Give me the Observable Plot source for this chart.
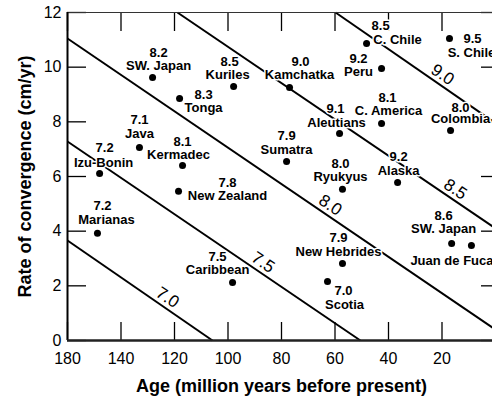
<!DOCTYPE html>
<html><head><meta charset="utf-8">
<script src="https://cdn.jsdelivr.net/npm/d3@7"></script>
<script src="https://cdn.jsdelivr.net/npm/@observablehq/plot@0.6"></script>
<style>
html,body{margin:0;padding:0;background:#fff;overflow:hidden;}
#chart{width:492px;height:396px;overflow:hidden;position:relative;}
#chart svg{max-width:none !important;}
</style></head><body><div id="chart"></div>
<script>
// ---- data ----
const zones = ["SW. Japan","Tonga","Kuriles","Java","Kermadec","Izu-Bonin","New Zealand","Marianas","Caribbean",
  "C. Chile","S. Chile","Peru","Kamchatka","C. America","Aleutians","Colombia","Sumatra","Ryukyus","Alaska",
  "New Hebrides","Scotia","SW. Japan ","Juan de Fuca"];
const ages = [128.2,118.1,97.9,133.1,117.0,148.0,118.5,148.8,98.3,
  48.2,17.2,42.6,77.0,42.6,58.3,16.8,78.1,57.2,36.6,
  57.2,62.8,16.4,9.0];
const rates = [9.62,8.85,9.29,7.06,6.40,6.11,5.46,3.92,2.12,
  10.87,11.05,9.95,9.26,7.94,7.57,7.68,6.55,5.53,5.78,
  2.82,2.16,3.55,3.48];
const magnitudes = ["8.2","8.3","8.5","7.1","8.1","7.2","7.8","7.2","7.5",
  "8.5","9.5","9.2","9.0","8.1","9.1","8.0","7.9","8.0","9.2",
  "7.9","7.0","8.6",""];

const contourLevels = ["7.0","7.5","8.0","8.5","9.0"];
const contourStartAge = [160,160,160,118.9,59.8];
const contourStartRate = [3.66,7.28,11.05,12,12];
const contourEndAge = [105.8,50.5,0,0,0];
const contourEndRate = [0,0,0.4,4.1,7.95];

const xTicks = [160,140,120,100,80,60,40,20];
const xTickLabels = ["180","140","120","100","80","60","40","20"];
const yTicks = [0,2,4,6,8,10,12];
const xTitle = "Age (million years before present)";
const yTitle = "Rate of convergence (cm/yr)";

// ---- layout (pixel offsets for labels) ----
// [magDx, magDy, nameDx, nameDy]
const labelOffsets = [
  [6,-25,6,-12],[24,-4,24,9],[-4,-25,-6,-12],[0,-28,0,-14],[0,-24,-4,-11],[5,-26,4,-11],
  [49,-8,49,5],[5,-28,9,-14],[-15,-26,-15,-13],
  [14,-18,31,-4],[23,0,22,14],[-23,-10,-23,3],[11,-26,10,-13],[6,-26,7,-13],[-4,-25,-3,-11],
  [10,-23,10,-12],[0,-26,0,-12],[-2,-26,-2,-13],[1,-26,1,-12],
  [-4,-26,-4,-12],[16,9,17,23],[-8,-28,-8,-15],[0,0,-19.5,15]
];
const contourLabelFrac = [0.69,0.668,0.614,0.874,0.67];

const points = zones.map((z,i)=>({zone:z.trim(), age:ages[i], rate:rates[i], mag:magnitudes[i], off:labelOffsets[i]}));
const contours = contourLevels.map((lv,i)=>({level:lv, a1:contourStartAge[i], r1:contourStartRate[i], a2:contourEndAge[i], r2:contourEndRate[i], t:contourLabelFrac[i]}));

const W = 500, H = 396, mL = 67, mR = 5, mT = 12, mB = 56;
const fw = W - mL - mR, fh = H - mT - mB;

const labelMarks = [];
for (const p of points) {
  if (p.mag) labelMarks.push(Plot.text([p], {x:"age", y:"rate", text:"mag", dx:p.off[0], dy:p.off[1],
    fontSize:13, fontWeight:"bold", fill:"black", stroke:"white", strokeWidth:3}));
  labelMarks.push(Plot.text([p], {x:"age", y:"rate", text:"zone", dx:p.off[2], dy:p.off[3],
    fontSize:13, fontWeight:"bold", fill:"black", stroke:"white", strokeWidth:3}));
}

const chart = Plot.plot({
  width: W, height: H,
  marginLeft: mL, marginRight: mR, marginTop: mT, marginBottom: mB,
  style: {fontFamily: "'Liberation Sans', Arial, sans-serif", fontSize: "16px", color: "black", background: "white", maxWidth: "none", overflow: "visible"},
  x: {domain: [160, 0], axis: null},
  y: {domain: [0, 12], axis: null},
  marks: [
    Plot.link(contours, {x1:"a1", y1:"r1", x2:"a2", y2:"r2", stroke:"black", strokeWidth:2}),
    // inward ticks
    Plot.tickX(xTicks, {x:d=>d, insetTop: fh-18, stroke:"black", strokeWidth:1.3}),
    Plot.tickX(xTicks, {x:d=>d, insetBottom: fh-19, stroke:"black", strokeWidth:1.3}),
    Plot.tickY(yTicks, {y:d=>d, insetRight: fw-19, stroke:"black", strokeWidth:1.3}),
    Plot.tickY(yTicks, {y:d=>d, insetLeft: fw-14, stroke:"black", strokeWidth:1.3}),
    // frame
    Plot.ruleY([12], {stroke:"#333", strokeWidth:1}),
    Plot.ruleX([0], {stroke:"black", strokeWidth:1}),
    Plot.ruleX([160], {stroke:"black", strokeWidth:2}),
    Plot.ruleY([0], {stroke:"#222", strokeWidth:2.5}),
    // tick labels
    Plot.axisX(xTicks, {tickSize:0, tickPadding:12, fontSize:16, label:null, tickFormat:d=>xTickLabels[xTicks.indexOf(d)]}),
    Plot.axisY(yTicks, {tickSize:0, tickPadding:6, fontSize:16, label:null}),
    // titles
    Plot.text([xTitle], {text:d=>d, frameAnchor:"bottom", textAnchor:"middle", lineAnchor:"middle", dy:46, fontSize:18, fontWeight:"bold"}),
    Plot.text([yTitle], {text:d=>d, frameAnchor:"left", textAnchor:"middle", lineAnchor:"middle", dx:-42, rotate:-90, fontSize:18, fontWeight:"bold"}),
    // points
    Plot.dot(points, {x:"age", y:"rate", r:3.5, fill:"black"}),
    ...labelMarks,
    // contour labels
    Plot.text(contours, {x:d=>d.a1 + d.t*(d.a2-d.a1), y:d=>d.r1 + d.t*(d.r2-d.r1), text:"level", rotate:34, dy:-12,
      fontSize:17, fill:"black", stroke:"white", strokeWidth:2})
  ]
});
document.getElementById("chart").appendChild(chart);
</script></body></html>
